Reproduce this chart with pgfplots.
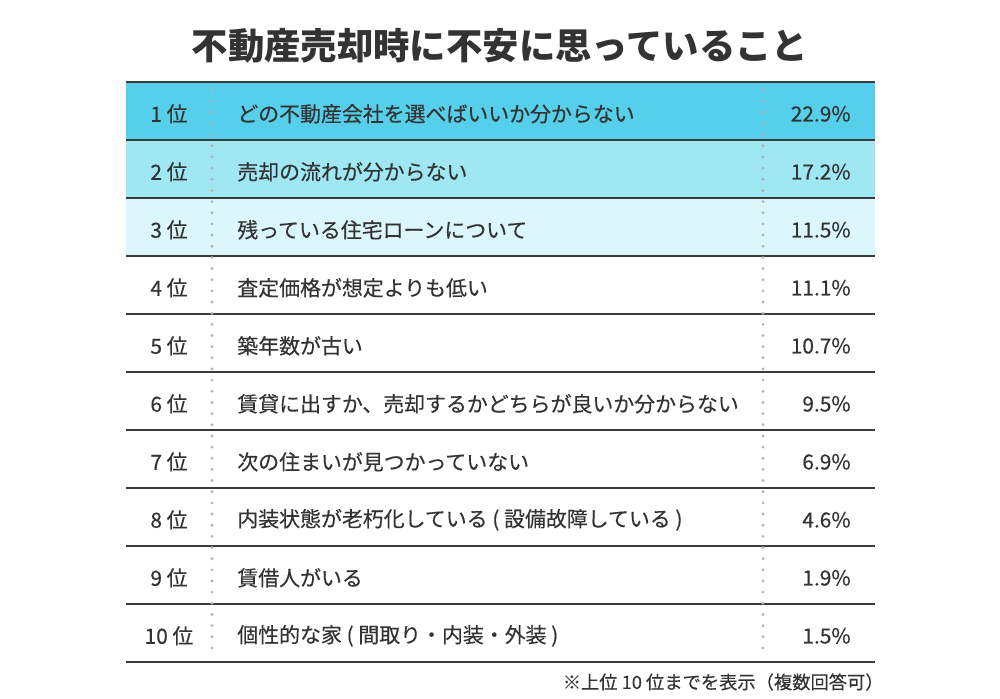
\documentclass[border=0pt]{standalone}
\usepackage{fontspec}
\setmainfont{Noto Sans CJK JP}
\newfontfamily\medfont[FakeBold=0.35]{Noto Sans CJK JP}
\usepackage{pgfplots}
\usepackage{pgfplotstable}
\pgfplotsset{compat=1.18}

\definecolor{rowA}{HTML}{56CFEA}
\definecolor{rowB}{HTML}{9FE7F3}
\definecolor{rowC}{HTML}{DCF7FB}
\definecolor{txt}{HTML}{333333}
\definecolor{rule}{HTML}{3A3A3A}
\definecolor{dots}{HTML}{B3B3B3}

% rank, row centre (px from top), item, share in %
\pgfplotstableread[col sep=comma]{
rank,y,label,val
1 位,111,どの不動産会社を選べばいいか分からない,22.9
2 位,169,売却の流れが分からない,17.2
3 位,227,残っている住宅ローンについて,11.5
4 位,285,査定価格が想定よりも低い,11.1
5 位,343,築年数が古い,10.7
6 位,401,賃貸に出すか、売却するかどちらが良いか分からない,9.5
7 位,459,次の住まいが見つかっていない,6.9
8 位,517,内装状態が老朽化している ( 設備故障している ),4.6
9 位,575,賃借人がいる,1.9
10 位,633,個性的な家 ( 間取り・内装・外装 ),1.5
}\ranking

\begin{document}
\begin{tikzpicture}
\begin{axis}[
  scale only axis, width=20cm, height=13.96cm,
  xmin=0, xmax=1000, ymin=0, ymax=698, y dir=reverse,
  axis lines=none, clip=false,
  every node near coord/.append style={inner sep=0pt, text=txt, yshift=-1.6pt,
    font=\medfont\fontsize{11.9pt}{14pt}\selectfont},
]
% keep the full canvas as bounding box
\path (axis cs:0,0) rectangle (axis cs:1000,698);
% shaded rows
\addplot[fill=rowA, draw=none] coordinates {(126,82) (875,82) (875,140) (126,140)} -- cycle;
\addplot[fill=rowB, draw=none] coordinates {(126,140) (875,140) (875,198) (126,198)} -- cycle;
\addplot[fill=rowC, draw=none] coordinates {(126,198) (875,198) (875,256) (126,256)} -- cycle;
% row rules
\addplot[rule, line width=1.15pt, unbounded coords=jump] coordinates {
  (126,82) (875,82) (126,nan)
  (126,140) (875,140) (126,nan)
  (126,198) (875,198) (126,nan)
  (126,256) (875,256) (126,nan)
  (126,314) (875,314) (126,nan)
  (126,372) (875,372) (126,nan)
  (126,430) (875,430) (126,nan)
  (126,488) (875,488) (126,nan)
  (126,546) (875,546) (126,nan)
  (126,604) (875,604) (126,nan)
  (126,662) (875,662)};
% dotted separators
\addplot[dots, line width=1.8pt, line cap=round, dash pattern=on 0pt off 6.35pt] coordinates {(212,90) (212,657)};
\addplot[dots, line width=1.8pt, line cap=round, dash pattern=on 0pt off 6.35pt] coordinates {(763,90) (763,657)};
% ranks
\addplot[only marks, mark size=0pt, nodes near coords, point meta=explicit symbolic,
  nodes near coords style={anchor=center}]
  table[x expr=169, y=y, meta=rank] {\ranking};
% items
\addplot[only marks, mark size=0pt, nodes near coords, point meta=explicit symbolic,
  nodes near coords style={anchor=west}]
  table[x expr=237, y=y, meta=label] {\ranking};
% shares
\addplot[only marks, mark size=0pt, nodes near coords={\pgfplotspointmeta\%}, point meta=explicit symbolic,
  nodes near coords style={anchor=east}]
  table[x expr=851, y=y, meta=val] {\ranking};
\node[font=\bfseries\fontsize{20.7pt}{24pt}\selectfont, text=txt] at (axis cs:500,46) {不動産売却時に不安に思っていること};
\node[anchor=east, inner sep=0pt, font=\medfont\fontsize{10.4pt}{12pt}\selectfont, text=txt] at (axis cs:884,682) {※上位 10 位までを表示（複数回答可）};
\end{axis}
\end{tikzpicture}
\end{document}
